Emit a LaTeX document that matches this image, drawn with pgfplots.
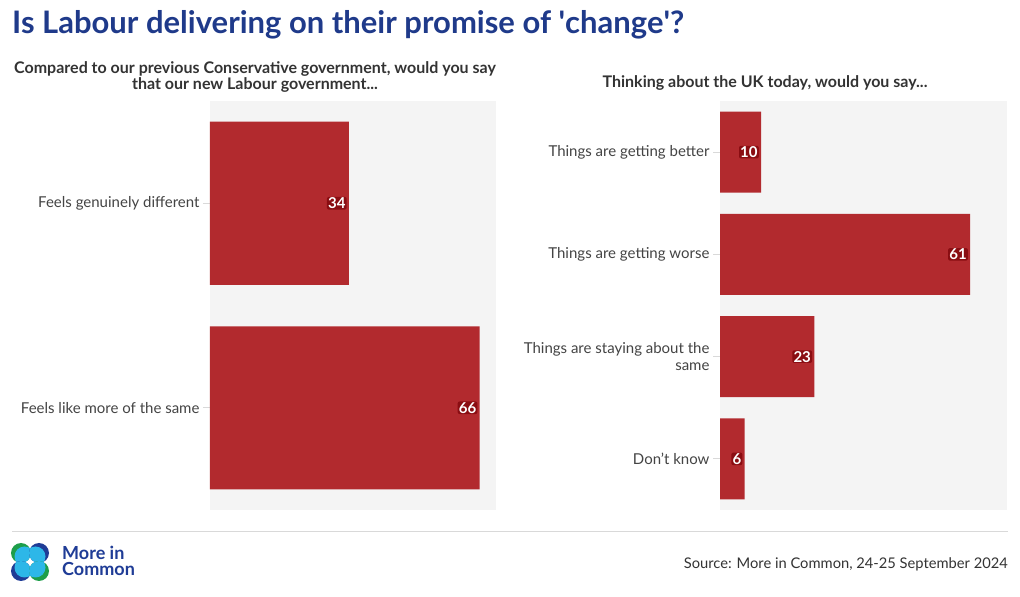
\documentclass[border=0pt]{standalone}
\usepackage{fontspec}
\setmainfont{Lato}
\usepackage{pgfplots}
\pgfplotsset{compat=1.18}
\definecolor{titleblue}{HTML}{1F3A8A}
\definecolor{barred}{HTML}{B22A2E}
\definecolor{lblred}{HTML}{8A0D12}
\definecolor{txtgray}{HTML}{444444}
\definecolor{subgray}{HTML}{333333}
\definecolor{bggray}{HTML}{F4F4F4}
\definecolor{mgreen}{HTML}{1E9E4A}
\definecolor{mblue}{HTML}{1F3C96}
\definecolor{mlight}{HTML}{2DB7E8}
\pgfplotsset{
  panel/.style={
    anchor=south west, scale only axis,
    xbar, bar shift=0pt,
    xmin=0, xmax=70, y dir=reverse,
    xtick=\empty,
    axis line style={draw=none},
    axis background/.style={fill=bggray},
    tick style={draw=black!15, line width=0.8pt},
    major tick length=7pt, tick align=outside, ytick pos=left,
    yticklabel style={font=\fontsize{15}{16.5}\selectfont, text=txtgray, align=right},
    nodes near coords={\pgfmathprintnumber[assume math mode=true]{\pgfplotspointmeta}},
    point meta=x,
    every node near coord/.append style={anchor=east, xshift=-2pt, font=\fontsize{15}{16}\selectfont\bfseries, text=white, fill=lblred, rounded corners=2pt, inner xsep=1.2pt, inner ysep=0.8pt},
  }
}
\begin{document}
\begin{tikzpicture}
\fill[white] (0pt,0pt) rectangle (1020pt,597pt);
\node[anchor=base west, text=titleblue, font=\fontsize{31}{34}\selectfont\bfseries, inner sep=0] at (12pt,563pt) {Is Labour delivering on their promise of \textquotesingle change\textquotesingle?};
\node[anchor=north, align=center, text=subgray, font=\fontsize{16}{13.5}\selectfont\bfseries, inner sep=0] at (255pt,535.5pt) {Compared to our previous Conservative government, would you say\\that our new Labour government...};
\node[anchor=base, text=subgray, font=\fontsize{16}{18}\selectfont\bfseries, inner sep=0] at (765pt,509.5pt) {Thinking about the UK today, would you say...};

\begin{axis}[panel, at={(210pt,87pt)}, width=286pt, height=409pt,
  bar width=163pt, ymin=-0.5, ymax=1.5,
  ytick={0,1}, yticklabels={Feels genuinely different, Feels like more of the same}]
\addplot[fill=barred, draw=none] coordinates {(34,0) (66,1)};
\end{axis}

\begin{axis}[panel, at={(720pt,87pt)}, width=287pt, height=409pt,
  bar width=81pt, ymin=-0.5, ymax=3.5,
  ytick={0,1,2,3}, yticklabels={Things are getting better, Things are getting worse, {Things are staying about the\\same}, Don't know}]
\addplot[fill=barred, draw=none] coordinates {(10,0) (61,1) (23,2) (6,3)};
\end{axis}

\draw[black!15, line width=0.8pt] (12pt,66pt) -- (1008pt,66pt);
% logo
\def\r{10pt}
\begin{scope}
\fill[mgreen] (21pt,44pt) circle (\r);
\begin{scope}\clip (21pt,44pt) circle (\r); \fill[mlight] (24.5pt,40.5pt) circle (\r);\end{scope}
\fill[mblue] (39pt,44pt) circle (\r);
\begin{scope}\clip (39pt,44pt) circle (\r); \fill[mlight] (35.5pt,40.5pt) circle (\r);\end{scope}
\fill[mblue] (21pt,26pt) circle (\r);
\begin{scope}\clip (21pt,26pt) circle (\r); \fill[mlight] (24.5pt,29.5pt) circle (\r);\end{scope}
\fill[mgreen] (39pt,26pt) circle (\r);
\begin{scope}\clip (39pt,26pt) circle (\r); \fill[mlight] (35.5pt,29.5pt) circle (\r);\end{scope}
\end{scope}
\node[anchor=base west, text=mblue, font=\fontsize{18}{20}\selectfont\bfseries, inner sep=0] at (62pt,37pt) {More in};
\node[anchor=base west, text=mblue, font=\fontsize{18}{20}\selectfont\bfseries, inner sep=0] at (62pt,21pt) {Common};
\node[anchor=base east, text=subgray, font=\fontsize{14.7}{16}\selectfont, inner sep=0] at (1008pt,28pt) {Source: More in Common, 24-25 September 2024};
\end{tikzpicture}
\end{document}
